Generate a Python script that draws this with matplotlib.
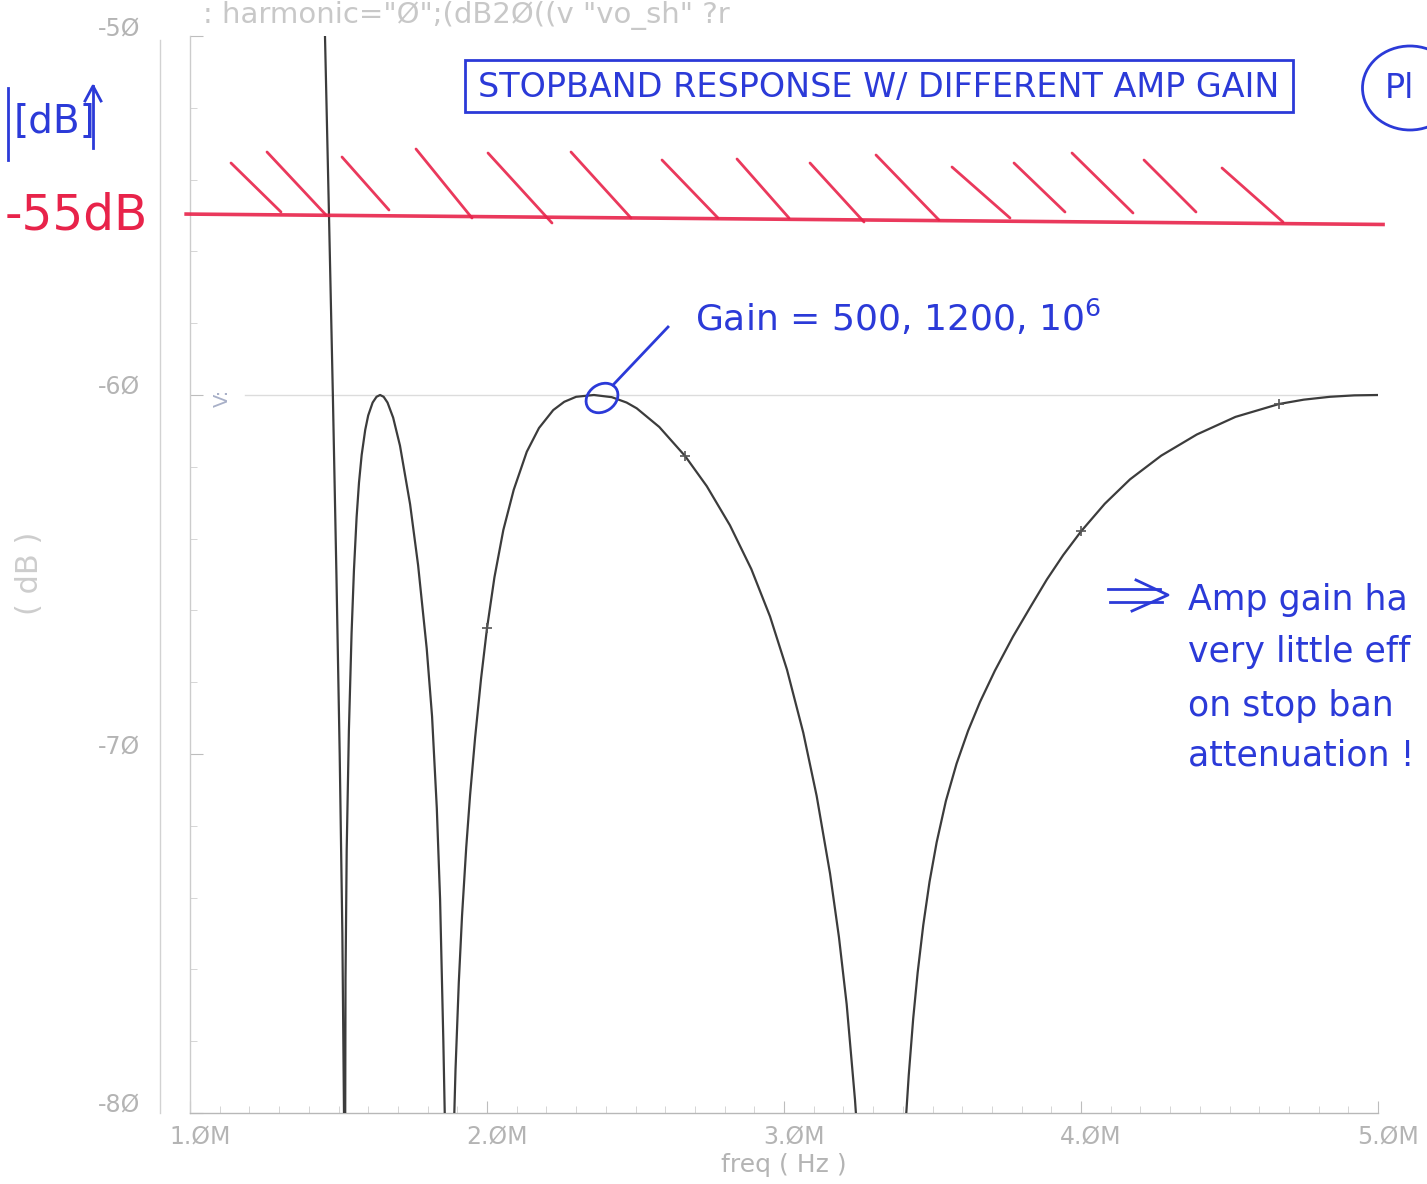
import matplotlib
matplotlib.use('Agg')
import matplotlib.pyplot as plt
from matplotlib.lines import Line2D
from matplotlib.patches import Ellipse, Rectangle
from matplotlib.ticker import MultipleLocator, FixedLocator

W, H, DPI = 1427, 1184, 100

# ---- data (frequency in MHz, magnitude in dB) ----
freq_mhz = [1.440, 1.4545, 1.468, 1.481, 1.493, 1.504, 1.513, 1.5185, 1.5215,
            1.5225, 1.5236, 1.5276, 1.535, 1.544, 1.552, 1.561, 1.569, 1.578,
            1.590, 1.600, 1.615, 1.628, 1.640, 1.652, 1.665, 1.684, 1.707,
            1.741, 1.768, 1.797, 1.815, 1.831, 1.842, 1.853, 1.860, 1.872,
            1.886, 1.894, 1.905, 1.916, 1.930, 1.943, 1.960, 1.980, 2.000,
            2.025, 2.055, 2.090, 2.134, 2.175, 2.223, 2.260, 2.300, 2.360,
            2.420, 2.470, 2.504, 2.580, 2.667, 2.740, 2.818, 2.890, 2.953,
            3.010, 3.065, 3.110, 3.155, 3.185, 3.211, 3.239, 3.250, 3.323,
            3.407, 3.420, 3.435, 3.450, 3.469, 3.490, 3.514, 3.545, 3.581,
            3.620, 3.660, 3.710, 3.771, 3.830, 3.885, 3.940, 4.000, 4.080,
            4.165, 4.270, 4.390, 4.520, 4.667, 4.750, 4.838, 4.920, 5.000]
mag_db = [-45.0, -50.0, -55.0, -60.0, -65.0, -70.0, -75.0, -80.0, -100.0,
          -80.5, -76.27, -72.67, -69.34, -66.64, -64.88, -63.4, -62.44, -61.67,
          -60.97, -60.57, -60.21, -60.05, -60.0, -60.05, -60.21, -60.63, -61.41,
          -63.04, -64.74, -67.06, -68.95, -71.51, -74.04, -78.0, -81.0, -100.0,
          -81.19, -78.79, -76.37, -74.5, -72.61, -71.15, -69.54, -67.9, -66.5,
          -65.08, -63.76, -62.64, -61.58, -60.92, -60.42, -60.19, -60.05, -60.0,
          -60.06, -60.21, -60.37, -60.89, -61.7, -62.54, -63.63, -64.85, -66.17,
          -67.65, -69.41, -71.17, -73.33, -75.1, -76.97, -79.63, -80.95, -100.0,
          -80.6, -78.95, -77.37, -76.09, -74.76, -73.56, -72.46, -71.31, -70.27,
          -69.35, -68.55, -67.68, -66.73, -65.9, -65.14, -64.46, -63.8, -63.03,
          -62.35, -61.69, -61.1, -60.61, -60.25, -60.13, -60.05, -60.01, -60.0]
marker_freq = [2.0, 2.667, 4.0, 4.667]
marker_db = [-66.5, -61.7, -63.8, -60.25]
limit_freq = [0.987, 5.017]
limit_db = [-54.96, -55.25]
x_ticks = [1, 2, 3, 4, 5]
x_labels = ['1.ØM', '2.ØM', '3.ØM', '4.ØM', '5.ØM']
y_ticks = [-50, -60, -70, -80]
y_labels = ['-5Ø', '-6Ø', '-7Ø', '-8Ø']

BLUE = '#2b3ad8'
RED = '#e8234a'
GREY = '#b4b4b4'

fig = plt.figure(figsize=(W / DPI, H / DPI), dpi=DPI)
fig.patch.set_facecolor('white')
ax = fig.add_axes([190 / W, 1 - 1113 / H, (1378 - 190) / W, (1113 - 36) / H])
ax.set_xlim(1, 5)
ax.set_ylim(-80, -50)
ax.set_facecolor('none')

for s in ['top', 'right']:
    ax.spines[s].set_visible(False)
ax.spines['left'].set_color('#cccccc')
ax.spines['bottom'].set_color('#b8b8b8')
ax.spines['left'].set_linewidth(1.0)
ax.spines['bottom'].set_linewidth(1.0)

ax.xaxis.set_major_locator(FixedLocator(x_ticks))
ax.xaxis.set_minor_locator(MultipleLocator(0.1))
ax.yaxis.set_major_locator(FixedLocator(y_ticks))
ax.yaxis.set_minor_locator(MultipleLocator(2))
ax.tick_params(axis='both', which='major', direction='in', length=9,
               color='#bdbdbd', labelbottom=False, labelleft=False)
ax.tick_params(axis='both', which='minor', direction='in', length=5,
               color='#cfcfcf')

for v, lab in zip(x_ticks, x_labels):
    ax.annotate(lab, xy=(v, 0), xycoords=('data', 'axes fraction'),
                xytext=(10, -24), textcoords='offset pixels',
                ha='center', va='center', fontsize=17, color=GREY)
for v, lab in zip(y_ticks, y_labels):
    ax.annotate(lab, xy=(0, v), xycoords=('axes fraction', 'data'),
                xytext=(-50, 8), textcoords='offset pixels',
                ha='right', va='center', fontsize=17, color=GREY)

ax.set_xlabel('freq ( Hz )', fontsize=18, color=GREY)
ax.xaxis.set_label_coords(0.5, -(1153 - 1113) / (1113 - 36))

# -60 dB reference gridline
ax.plot([1.185, 5.0], [-60, -60], color='#dcdcdc', lw=1.0, zorder=1)

# response curve and markers
ax.plot(freq_mhz, mag_db, color='#3c3c3c', lw=1.6, zorder=3,
        solid_joinstyle='round')
ax.plot(marker_freq, marker_db, linestyle='none', marker='+', markersize=7,
        markeredgewidth=1.2, color='#555555', zorder=4)

# hand-drawn -55 dB limit line
ax.plot(limit_freq, limit_db, color=RED, lw=2.6, alpha=0.9, clip_on=False,
        zorder=5)


def pline(xs, ys, **kw):
    fig.add_artist(Line2D([x / DPI for x in xs], [(H - y) / DPI for y in ys],
                          transform=fig.dpi_scale_trans, **kw))


def ptext(x, y, s, **kw):
    fig.text(x / W, 1 - y / H, s, **kw)


# outer faint y-axis line
pline([160, 160], [40, 1113], color='#d2d2d2', lw=1.0)

# faint header / labels from the plotter
ptext(203, 15, ': harmonic="Ø";(dB2Ø((v "vo_sh" ?r', fontsize=21,
      color='#c8c8c8', ha='left', va='center')
ptext(30, 573, '( dB )', fontsize=22, color='#cdcdcd', rotation=90,
      ha='center', va='center')
ptext(222, 398, 'V:', fontsize=14, color='#a8b0c8', rotation=90,
      ha='center', va='center')

# red hatching above the limit
hatches = [(231, 163, 281, 212), (267, 152, 326, 215), (342, 157, 389, 210),
           (416, 149, 472, 218), (488, 153, 552, 223), (571, 152, 631, 218),
           (662, 160, 718, 218), (737, 159, 789, 218), (810, 163, 864, 222),
           (876, 155, 939, 220), (952, 167, 1010, 218), (1014, 163, 1065, 212),
           (1072, 153, 1133, 213), (1144, 160, 1196, 212), (1222, 168, 1283, 222)]
for x1, y1, x2, y2 in hatches:
    pline([x1, x2], [y1, y2], color=RED, lw=2.0, alpha=0.9,
          solid_capstyle='round')

ptext(5, 215, '-55dB', fontsize=35, color=RED, ha='left', va='center')

# blue |[dB]| with upward arrow
pline([8, 8], [88, 160], color=BLUE, lw=2.0)
ptext(14, 122, '[dB]', fontsize=28, color=BLUE, ha='left', va='center')
pline([93, 93], [148, 86], color=BLUE, lw=2.0)
pline([85, 93, 101], [101, 86, 101], color=BLUE, lw=2.0)

# title box
fig.add_artist(Rectangle((465 / DPI, (H - 112) / DPI), (1293 - 465) / DPI,
                         (112 - 60) / DPI, transform=fig.dpi_scale_trans,
                         fill=False, edgecolor=BLUE, lw=2.0))
ptext(879, 87, 'STOPBAND RESPONSE W/ DIFFERENT AMP GAIN', fontsize=24,
      color=BLUE, ha='center', va='center')

# "Plot" bubble (cut by the page edge)
fig.add_artist(Ellipse((1410 / DPI, (H - 88) / DPI), 95 / DPI, 84 / DPI,
                       transform=fig.dpi_scale_trans, fill=False,
                       edgecolor=BLUE, lw=2.0))
ptext(1385, 88, 'Pl', fontsize=24, color=BLUE, ha='left', va='center')

# gain callout
fig.add_artist(Ellipse((602 / DPI, (H - 398) / DPI), 34 / DPI, 27 / DPI,
                       angle=35, transform=fig.dpi_scale_trans, fill=False,
                       edgecolor=BLUE, lw=2.0))
pline([613, 668], [385, 327], color=BLUE, lw=2.0)
ptext(695, 318, 'Gain = 500, 1200, 10$^6$', fontsize=26, color=BLUE,
      ha='left', va='center')

# right-hand conclusion (cut by the page edge in the original)
pline([1108, 1160], [589, 589], color=BLUE, lw=2.0)
pline([1110, 1162], [602, 602], color=BLUE, lw=2.0)
pline([1136, 1168, 1132], [580, 595, 611], color=BLUE, lw=2.0)
for yb, s in zip([610, 662, 716, 765],
                 ['Amp gain ha', 'very little eff', 'on stop ban',
                  'attenuation !']):
    ptext(1188, yb, s, fontsize=25, color=BLUE, ha='left', va='baseline')

fig.savefig('out.png', dpi=DPI)
